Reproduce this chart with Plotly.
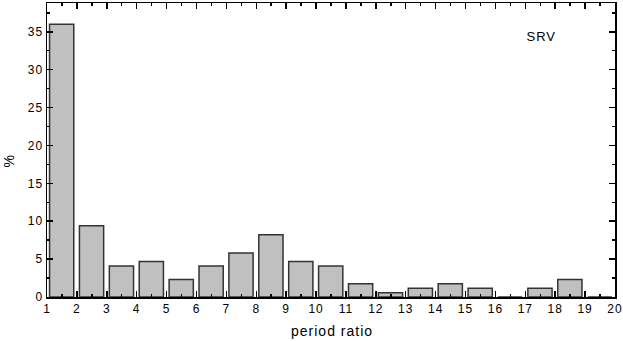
import plotly.graph_objects as go

bin_start = list(range(1, 20))
percent = [36.0, 9.4, 4.1, 4.7, 2.3, 4.1, 5.8, 8.2, 4.7, 4.1, 1.75, 0.55, 1.15, 1.75, 1.15, 0.0, 1.15, 2.3, 0.0]
x_ticks = list(range(1, 21))
y_ticks = [0, 5, 10, 15, 20, 25, 30, 35]

centers = [b + 0.49 for b in bin_start]

W, H = 623, 341
L, R, T, B = 47, 8, 1, 44

fig = go.Figure()
fig.add_trace(go.Bar(
    x=centers, y=percent, width=0.81,
    marker=dict(color="#c0c0c0", line=dict(color="#333333", width=1.5)),
    showlegend=False, hoverinfo="skip",
))

fam = "Liberation Sans, Arial, sans-serif"
tickfont = dict(family=fam, size=12, color="black")
labfont = dict(family=fam, size=14, color="black")
srvfont = dict(family=fam, size=13, color="black")

pw = W - L - R
ph = H - T - B


def px2paper(px, py):
    return (px - L) / pw, 1 - (py - T) / ph


ann = []
for text, px, py, ang, f in [("SRV", 541, 35, 0, srvfont), ("period ratio", 332, 331, 0, labfont),
                             ("%", 9, 160, -90, labfont)]:
    ax, ay = px2paper(px, py)
    ann.append(dict(text=text, x=ax, y=ay, xref="paper", yref="paper", showarrow=False,
                    textangle=ang, font=f, xanchor="center", yanchor="middle"))

fig.update_layout(
    width=W, height=H,
    margin=dict(l=L, r=R, t=T, b=B),
    paper_bgcolor="white", plot_bgcolor="white",
    font=tickfont,
    xaxis=dict(
        range=[1, 20], tickvals=x_ticks, ticktext=[str(v) for v in x_ticks],
        ticks="inside", ticklen=6, tickwidth=1.5, tickcolor="black",
        minor=dict(dtick=0.5, tick0=1, ticks="inside", ticklen=3, tickwidth=1.5, tickcolor="black"),
        showline=True, linecolor="black", linewidth=1.5, mirror="ticks",
        showgrid=False, zeroline=False, tickfont=tickfont,
    ),
    yaxis=dict(
        range=[0, 38.8], tickvals=y_ticks,
        ticks="inside", ticklen=6, tickwidth=1.5, tickcolor="black",
        minor=dict(dtick=2.5, tick0=0, ticks="inside", ticklen=3, tickwidth=1.5, tickcolor="black"),
        showline=True, linecolor="black", linewidth=1.5, mirror="ticks",
        showgrid=False, zeroline=False, tickfont=tickfont,
    ),
    annotations=ann,
)

post = (
    "document.body.style.margin='0px';document.body.style.overflow='hidden';"
    "document.querySelectorAll('.main-svg text').forEach(function(t){t.style.letterSpacing='1px';});"
)
fig.write_html("out.html", post_script=post, config={"displayModeBar": False, "staticPlot": True})
